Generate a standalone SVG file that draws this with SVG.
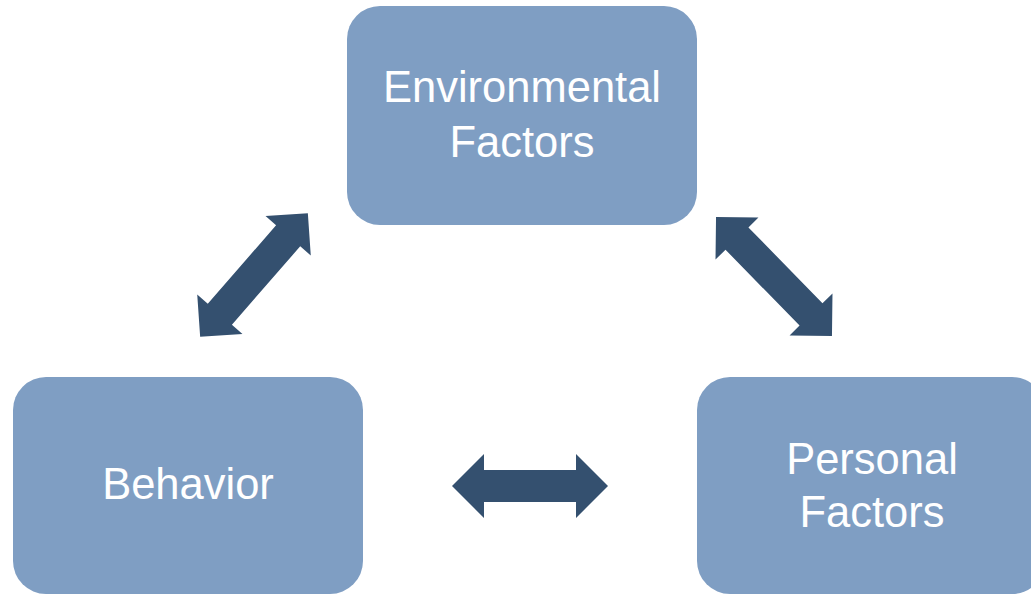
<svg xmlns="http://www.w3.org/2000/svg" width="1031" height="595" viewBox="0 0 1031 595">
  <style>
    .box { fill: #7F9EC3; }
    .lbl { fill: #FFFFFF; font-family: "Liberation Sans", Arial, sans-serif; font-size: 43.5px; text-anchor: middle; }
    .arrow { fill: #34506F; }
  </style>
  <rect width="1031" height="595" fill="#FFFFFF"/>
  <g id="connectors">
    <path class="arrow" transform="translate(254,275) rotate(-48.95)" d="M -82 0 L -52 -30 L -52 -16 L 52 -16 L 52 -30 L 82 0 L 52 30 L 52 16 L -52 16 L -52 30 Z"/>
    <path class="arrow" transform="translate(774,276.5) rotate(45.7)" d="M -83 0 L -53 -30 L -53 -16 L 53 -16 L 53 -30 L 83 0 L 53 30 L 53 16 L -53 16 L -53 30 Z"/>
    <path class="arrow" transform="translate(530,486)" d="M -78 0 L -46 -32 L -46 -16 L 46 -16 L 46 -32 L 78 0 L 46 32 L 46 16 L -46 16 L -46 32 Z"/>
  </g>
  <g id="environmental">
    <rect class="box" x="347" y="6" width="350" height="219" rx="33" ry="33"/>
    <text class="lbl" x="522" y="102">Environmental</text>
    <text class="lbl" x="522" y="157">Factors</text>
  </g>
  <g id="behavior">
    <rect class="box" x="13" y="377" width="350" height="217" rx="33" ry="33"/>
    <text class="lbl" x="188" y="499">Behavior</text>
  </g>
  <g id="personal">
    <rect class="box" x="697" y="377" width="348" height="217" rx="33" ry="33"/>
    <text class="lbl" x="872" y="474">Personal</text>
    <text class="lbl" x="872" y="527">Factors</text>
  </g>
</svg>
